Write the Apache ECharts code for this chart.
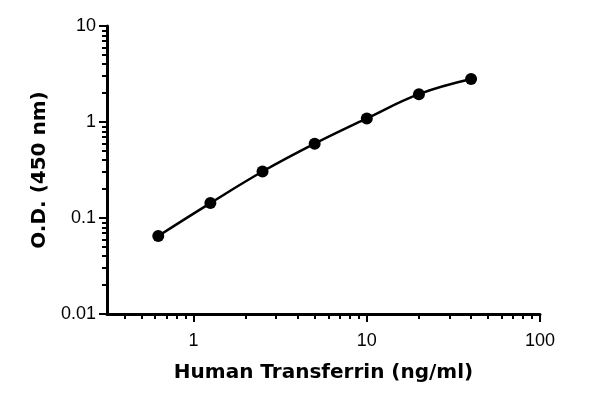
<!DOCTYPE html>
<html>
<head>
<meta charset="utf-8">
<script src="https://cdn.jsdelivr.net/npm/echarts@6/dist/echarts.min.js"></script>
<style>
  html, body { margin: 0; padding: 0; background: #fff; }
  #chart { width: 600px; height: 404px; }
</style>
</head>
<body>
<div id="chart"></div>
<script>
// concentrations (ng/ml) and optical density readings
const conc = [0.625, 1.25, 2.5, 5, 10, 20, 40];
const od = [0.065, 0.143, 0.305, 0.595, 1.09, 1.95, 2.8];

const xMajor = [1, 10, 100];
const xMinor = [0.4, 0.5, 0.6, 0.7, 0.8, 0.9, 2, 3, 4, 5, 6, 7, 8, 9, 20, 30, 40, 50, 60, 70, 80, 90];
const yMajor = [0.01, 0.1, 1, 10];
const yMinor = [0.02, 0.03, 0.04, 0.05, 0.06, 0.07, 0.08, 0.09, 0.2, 0.3, 0.4, 0.5, 0.6, 0.7, 0.8, 0.9, 2, 3, 4, 5, 6, 7, 8, 9];

const tickFont = "Liberation Sans";
const titleFont = "DejaVu Sans";
const xMin = 0.3162, xMax = 100;
const yMin = 0.01, yMax = 10;

const chart = echarts.init(document.getElementById("chart"), null, { renderer: "canvas" });

const options = {
  animation: false,
  grid: { left: 107, right: 60, top: 26, bottom: 90 },
  xAxis: [
    {
      type: "log",
      logBase: 10,
      min: xMin,
      max: xMax,
      position: "bottom",
      name: "Human Transferrin (ng/ml)",
      nameLocation: "middle",
      nameGap: 49,
      nameTextStyle: { fontFamily: titleFont, fontWeight: "bold", fontSize: 20, color: "#000" },
      axisLine: { lineStyle: { color: "#000", width: 3 } },
      axisTick: { customValues: xMajor, length: 8, lineStyle: { color: "#000", width: 2 } },
      axisLabel: {
        customValues: xMajor,
        margin: 18,
        fontFamily: tickFont,
        fontSize: 18,
        color: "#000",
        formatter: (v) => String(v),
      },
      splitLine: { show: false },
    },
    {
      type: "log",
      logBase: 10,
      min: xMin,
      max: xMax,
      position: "bottom",
      axisLine: { show: false },
      axisTick: { customValues: xMinor, length: 5, lineStyle: { color: "#000", width: 2 } },
      axisLabel: { show: false },
      splitLine: { show: false },
    },
  ],
  yAxis: [
    {
      type: "log",
      logBase: 10,
      min: yMin,
      max: yMax,
      position: "left",
      name: "O.D. (450 nm)",
      nameLocation: "middle",
      nameGap: 56,
      nameTextStyle: { fontFamily: titleFont, fontWeight: "bold", fontSize: 20, color: "#000" },
      axisLine: { lineStyle: { color: "#000", width: 3 } },
      axisTick: { customValues: yMajor, length: 8, lineStyle: { color: "#000", width: 2 } },
      axisLabel: {
        customValues: yMajor,
        margin: 11,
        fontFamily: tickFont,
        fontSize: 18,
        color: "#000",
        formatter: (v) => String(v),
      },
      splitLine: { show: false },
    },
    {
      type: "log",
      logBase: 10,
      min: yMin,
      max: yMax,
      position: "left",
      axisLine: { show: false },
      axisTick: { customValues: yMinor, length: 5, lineStyle: { color: "#000", width: 2 } },
      axisLabel: { show: false },
      splitLine: { show: false },
    },
  ],
  series: [
    {
      type: "line",
      xAxisIndex: 0,
      yAxisIndex: 0,
      data: conc.map((c, i) => [c, od[i]]),
      smooth: 0.4,
      symbol: "circle",
      symbolSize: 12,
      itemStyle: { color: "#000" },
      lineStyle: { color: "#000", width: 2.5 },
    },
  ],
};

chart.setOption(options);
</script>
</body>
</html>
